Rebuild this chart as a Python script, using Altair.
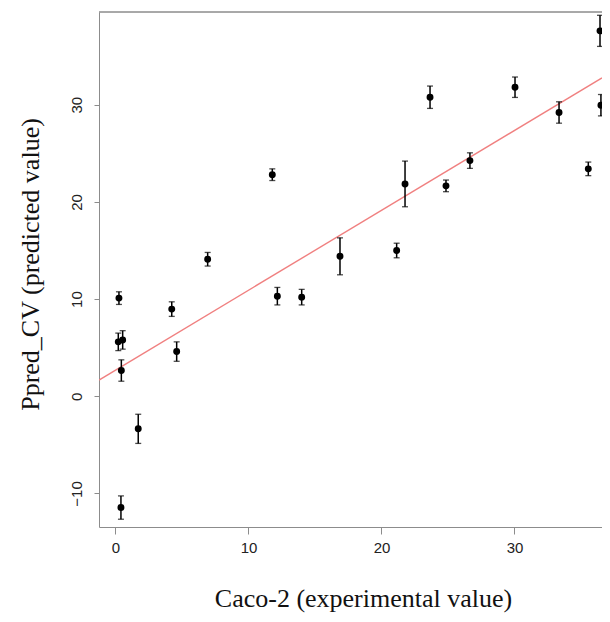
import altair as alt
import pandas as pd

# Experimental values (x) and predicted values (y) with error half-widths
x_exp = [0.26, 0.21, 0.54, 0.44, 1.71, 0.41, 4.23, 4.60, 6.93, 11.79, 12.17, 14.00,
         16.88, 21.14, 21.77, 23.65, 24.85, 26.65, 30.04, 33.35, 35.55, 36.43, 36.50]
y_pred = [10.10, 5.60, 5.80, 2.65, -3.35, -11.45, 8.97, 4.60, 14.10, 22.80, 10.30, 10.20,
          14.40, 15.00, 21.85, 30.77, 21.65, 24.25, 31.80, 29.20, 23.40, 37.60, 29.95]
y_err = [0.65, 0.90, 0.95, 1.10, 1.50, 1.20, 0.75, 1.00, 0.70, 0.60, 0.90, 0.80,
         1.90, 0.75, 2.35, 1.15, 0.60, 0.80, 1.05, 1.10, 0.70, 1.60, 1.10]

# Fitted line
line_intercept = 2.69
line_slope = 0.822
x_domain = [-1.24, 36.58]
y_domain = [-13.45, 39.54]
x_ticks = [0, 10, 20, 30]
y_ticks = [-10, 0, 10, 20, 30]

df = pd.DataFrame({
    "x": x_exp,
    "y": y_pred,
    "lo": [v - e for v, e in zip(y_pred, y_err)],
    "hi": [v + e for v, e in zip(y_pred, y_err)],
})
line_df = pd.DataFrame({
    "x": x_domain,
    "y": [line_intercept + line_slope * v for v in x_domain],
})

W, H = 503, 515
GRAY = "#8c8c8c"

xs = alt.Scale(domain=x_domain, nice=False, zero=False)
ys = alt.Scale(domain=y_domain, nice=False, zero=False)

xaxis = alt.Axis(
    values=x_ticks, grid=False, title="Caco-2 (experimental value)",
    domainColor=GRAY, tickColor=GRAY, tickSize=7, domainWidth=1,
    labelFont="Liberation Sans", labelFontSize=15, labelColor="#222222", labelPadding=6,
    titleFont="Liberation Serif", titleFontSize=26, titleFontWeight="normal",
    titleColor="#111111", titleX=264, titleY=71, titleAlign="center", titleBaseline="middle",
)
yaxis = alt.Axis(
    values=y_ticks, grid=False, title="Ppred_CV (predicted value)",
    domainColor=GRAY, tickColor=GRAY, tickSize=5, domainWidth=1,
    labelFont="Liberation Sans", labelFontSize=15, labelColor="#222222", labelPadding=10,
    labelAngle=270, labelAlign="center", labelBaseline="bottom",
    titleFont="Liberation Serif", titleFontSize=26, titleFontWeight="normal",
    titleColor="#111111", titleX=-69, titleY=252, titleAngle=270,
    titleAlign="center", titleBaseline="middle",
)

line = alt.Chart(line_df).mark_line(color="#f08080", strokeWidth=1.4, clip=True).encode(
    x=alt.X("x:Q", scale=xs, axis=xaxis),
    y=alt.Y("y:Q", scale=ys, axis=yaxis),
)
top_border = alt.Chart(line_df).mark_rule(color=GRAY, strokeWidth=1).encode(
    x=alt.value(0), x2=alt.value(W), y=alt.value(0)
)
bars = alt.Chart(df).mark_rule(color="black", strokeWidth=1.5).encode(
    x=alt.X("x:Q", scale=xs), y=alt.Y("lo:Q", scale=ys), y2="hi:Q"
)
cap_lo = alt.Chart(df).mark_tick(color="black", orient="horizontal", size=6, thickness=1.3).encode(
    x=alt.X("x:Q", scale=xs), y=alt.Y("lo:Q", scale=ys)
)
cap_hi = alt.Chart(df).mark_tick(color="black", orient="horizontal", size=6, thickness=1.3).encode(
    x=alt.X("x:Q", scale=xs), y=alt.Y("hi:Q", scale=ys)
)
pts = alt.Chart(df).mark_circle(color="black", size=48, opacity=1).encode(
    x=alt.X("x:Q", scale=xs), y=alt.Y("y:Q", scale=ys)
)

chart = alt.layer(line, top_border, bars, cap_lo, cap_hi, pts).properties(
    width=W, height=H,
    autosize=alt.AutoSizeParams(type="none"),
    padding={"left": 91, "top": 4, "right": 0, "bottom": 87},
    background="white",
).configure_view(stroke=None)

chart.save("out.html", embed_options={"renderer": "svg", "actions": False})
